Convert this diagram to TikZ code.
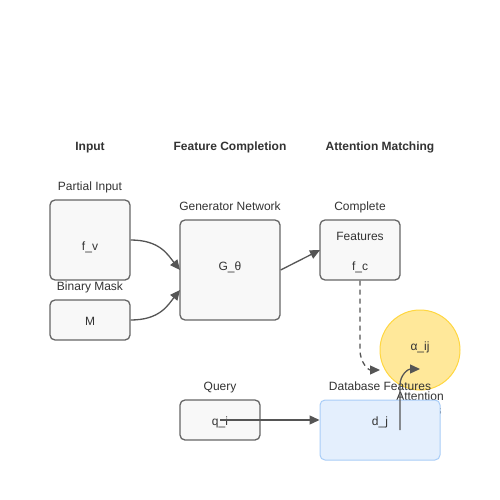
\documentclass[tikz,border=0pt]{standalone}
\usepackage{fontspec}
\setmainfont{Liberation Sans}
\usetikzlibrary{arrows.meta}
\definecolor{boxfill}{HTML}{F8F8F8}
\definecolor{boxline}{HTML}{666666}
\definecolor{arrowgray}{HTML}{555555}
\definecolor{textgray}{HTML}{333333}
\definecolor{attfill}{HTML}{FFE89A}
\definecolor{attline}{HTML}{FFD740}
\definecolor{dbfill}{HTML}{E4EFFD}
\definecolor{dbline}{HTML}{A9CDF7}
\begin{document}
\begin{tikzpicture}[x=1pt,y=-1pt]
	\tikzstyle{Box} = [draw=boxline, fill=boxfill, line width=1.3pt, rounded corners=5pt, inner sep=0pt]
	\tikzstyle{Label} = [text=textgray, font=\fontsize{12}{14}\selectfont, inner sep=0pt, anchor=base]
	\tikzstyle{Title} = [Label, font=\fontsize{12}{14}\selectfont\bfseries]
	\tikzstyle{Arrow} = [draw=arrowgray, line width=1.3pt, -{Triangle[length=10pt,width=9pt]}]
	\useasboundingbox (0,0) rectangle (500,500);
	\fill[white] (0,0) rectangle (500,500);
	% titles
	\node (tin) at (90,150) [Title] {Input};
	\node (tfc) at (230,150) [Title] {Feature Completion};
	\node (tam) at (380,150) [Title] {Attention Matching};
	% input
	\node (pil) at (90,190) [Label] {Partial Input};
	\node (fv) at (90,240) [Box, minimum width=80, minimum height=80] {};
	\node (fvt) at (90,250) [Label] {f\_v};
	\node (bml) at (90,290) [Label] {Binary Mask};
	\node (m) at (90,320) [Box, minimum width=80, minimum height=40] {};
	\node (mt) at (90,325) [Label] {M};
	% generator
	\node (gnl) at (230,210) [Label] {Generator Network};
	\node (g) at (230,270) [Box, minimum width=100, minimum height=100] {};
	\node (gt) at (230,270) [Label] {G\_θ};
	% complete features
	\node (cfl) at (360,210) [Label] {Complete};
	\node (cf) at (360,250) [Box, minimum width=80, minimum height=60] {};
	\node (cft) at (360,240) [Label] {Features};
	\node (fct) at (360,270) [Label] {f\_c};
	% attention
	\node (att) at (420,350) [circle, draw=attline, fill=attfill, line width=1pt, minimum size=80, inner sep=0pt] {};
	\node (attt) at (420,350) [Label] {α\_ij};
	% query and database
	\node (ql) at (220,390) [Label] {Query};
	\node (q) at (220,420) [Box, minimum width=80, minimum height=40] {};
	\node (qt) at (220,425) [Label] {q\_i};
	\node (dbl) at (380,390) [Label] {Database Features};
	\node (awl) at (420,400) [Label] {Attention};
	\node (aww) at (420,414) [Label] {Weights};
	\node (db) at (380,430) [draw=dbline, fill=dbfill, line width=1pt, rounded corners=5pt, inner sep=0pt, minimum width=120, minimum height=60] {};
	\node (dbt) at (380,425) [Label] {d\_j};
	% connectors
	\coordinate (gin1) at (180,270);
	\coordinate (gin2) at (180,290);
	\coordinate (cfin) at (320,250);
	\coordinate (attin1) at (380,370);
	\coordinate (dbout) at (400,430);
	\coordinate (attin2) at (420,369);
	\draw [Arrow] (fv.east |- 0,240) .. controls (160,240) and (168,255) .. (gin1);
	\draw [Arrow] (m.east) .. controls (160,320) and (168,305) .. (gin2);
	\draw [Arrow] (g.east) -- (cfin);
	\draw [Arrow, dash pattern=on 5pt off 4pt] (cf.south) -- (360,350) .. controls (360,362) and (368,370) .. (attin1);
	\draw [Arrow] (q.center) -- (q.center -| db.west);
	\draw [Arrow] (dbout) -- (400,385) .. controls (400,375) and (408,369) .. (attin2);
\end{tikzpicture}
\end{document}
